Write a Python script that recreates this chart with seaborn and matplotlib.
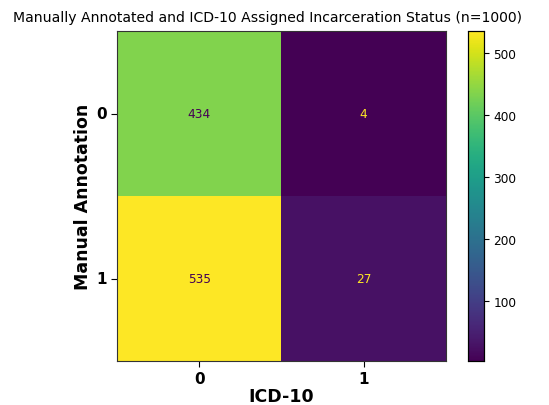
#!/usr/bin/env python3
"""Confusion matrix of manual vs ICD-10 incarceration status."""

import matplotlib
matplotlib.use("Agg")
import matplotlib.pyplot as plt
import pandas as pd
import seaborn as sns

ROW_LABELS = ["0", "1"]   # manual annotation
COL_LABELS = ["0", "1"]   # ICD-10
ROW_0 = [434, 4]
ROW_1 = [535, 27]


def main():
    cm = pd.DataFrame([ROW_0, ROW_1], index=ROW_LABELS, columns=COL_LABELS)
    cmap = plt.get_cmap("viridis")

    fig = plt.figure(figsize=(5.49, 4.06), dpi=100)
    ax = fig.add_axes([0.213, 0.108, 0.599, 0.813])
    cax = fig.add_axes([0.852, 0.108, 0.029, 0.813])

    sns.heatmap(cm, ax=ax, cbar_ax=cax, cmap=cmap, annot=True, fmt="d",
                vmin=cm.values.min(), vmax=cm.values.max(),
                annot_kws={"fontsize": 8.7})

    # sklearn-like text colours: dark on bright cells, bright on dark ones
    vals = cm.values.ravel()
    thresh = (vals.max() + vals.min()) / 2
    for txt, v in zip(ax.texts, vals):
        txt.set_color(cmap(0.0) if v > thresh else cmap(1.0))

    for sp in ax.spines.values():
        sp.set_visible(True)
        sp.set_linewidth(0.8)
        sp.set_color("#333333")
    ax.tick_params(bottom=True, left=True, length=4, width=0.8, pad=3)
    ax.set_xticklabels(COL_LABELS, fontsize=11, fontweight="bold", rotation=0)
    ax.set_yticklabels(ROW_LABELS, fontsize=11, fontweight="bold", rotation=0)
    ax.set_xlabel("ICD-10", fontsize=12.5, fontweight="bold", labelpad=1)
    ax.set_ylabel("Manual Annotation", fontsize=12.5, fontweight="bold", labelpad=3)
    ax.set_title("Manually Annotated and ICD-10 Assigned Incarceration Status (n=1000)",
                 fontsize=10.1, x=0.457, pad=7)

    cax.set_yticks([100, 200, 300, 400, 500])
    cax.tick_params(labelsize=8.7, length=3.5, width=0.8)
    for sp in cax.spines.values():
        sp.set_visible(True)
        sp.set_linewidth(0.8)

    fig.savefig("out.png", dpi=100)


if __name__ == '__main__':
    main()
